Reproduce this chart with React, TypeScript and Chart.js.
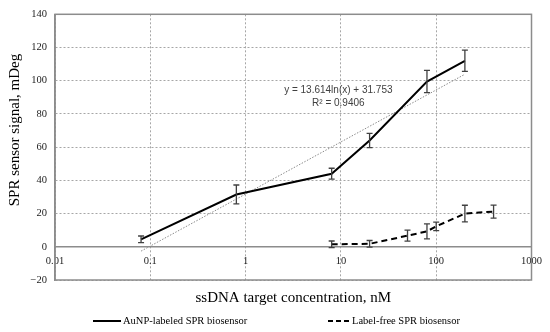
import React, { useEffect, useRef } from 'react';
import { Chart, registerables } from 'chart.js';
Chart.register(...registerables);

// ---- data ----
const xTickValues = [0.01, 0.1, 1, 10, 100, 1000];
const auX = [0.08, 0.8, 8, 20, 80, 200];
const auY = [4.5, 31.5, 44, 64, 99.5, 112];
const auErr = [2, 5.7, 3.3, 4.3, 6.7, 6.4];
const lfX = [8, 20, 50, 80, 100, 200, 400];
const lfY = [1.5, 1.8, 6.7, 9.3, 12.3, 20, 21.2];
const lfErr = [2, 2, 3.3, 4.5, 2.6, 5, 3.9];
const trendX = [0.08, 200];
const trendY = [-2.6, 103.9];
const trendText = ['y = 13.614ln(x) + 31.753', 'R² = 0.9406'];
const trendLabelAt = { x: 9.4, y: [94, 86.5] };
const seriesNames = ['AuNP-labeled SPR biosensor', 'Label-free SPR biosensor'];
const xTitle = 'ssDNA target concentration, nM';
const yTitle = 'SPR sensor signal, mDeg';

const SERIF = '"Liberation Serif", "Times New Roman", serif';
const SANS = '"Liberation Sans", Arial, sans-serif';

const toPts = (xs: number[], ys: number[]) => xs.map((x, i) => ({ x, y: ys[i] }));

const extrasPlugin = {
  id: 'extras',
  afterDatasetsDraw(chart: any) {
    const { ctx, scales } = chart;
    const xs = scales.x, ys = scales.y;
    const drawErr = (X: number[], Y: number[], E: number[]) => {
      ctx.save();
      ctx.strokeStyle = '#404040';
      ctx.lineWidth = 1.3;
      ctx.setLineDash([]);
      X.forEach((xv, i) => {
        const px = xs.getPixelForValue(xv);
        const t = ys.getPixelForValue(Y[i] + E[i]);
        const b = ys.getPixelForValue(Y[i] - E[i]);
        ctx.beginPath();
        ctx.moveTo(px, t); ctx.lineTo(px, b);
        ctx.moveTo(px - 3, t); ctx.lineTo(px + 3, t);
        ctx.moveTo(px - 3, b); ctx.lineTo(px + 3, b);
        ctx.stroke();
      });
      ctx.restore();
    };
    drawErr(auX, auY, auErr);
    drawErr(lfX, lfY, lfErr);
  },
  afterDraw(chart: any) {
    const { ctx, chartArea: ca, scales } = chart;
    ctx.save();
    // plot border
    ctx.strokeStyle = '#8c8c8c';
    ctx.lineWidth = 1.5;
    ctx.setLineDash([]);
    ctx.strokeRect(ca.left, ca.top, ca.right - ca.left, ca.bottom - ca.top);

    // trend label
    ctx.fillStyle = '#404040';
    ctx.font = `10px ${SANS}`;
    ctx.textAlign = 'center';
    ctx.textBaseline = 'middle';
    const lx = scales.x.getPixelForValue(trendLabelAt.x);
    trendText.forEach((t, i) => {
      ctx.fillText(t, lx, scales.y.getPixelForValue(trendLabelAt.y[i]));
    });

    // x title
    ctx.fillStyle = '#000';
    ctx.font = `15px ${SERIF}`;
    ctx.textAlign = 'center';
    ctx.textBaseline = 'middle';
    ctx.fillText(xTitle, (ca.left + ca.right) / 2, ca.bottom + 18);

    // y title
    ctx.save();
    ctx.translate(15, 130);
    ctx.rotate(-Math.PI / 2);
    ctx.fillText(yTitle, 0, 0);
    ctx.restore();

    // legend
    const ly = ca.bottom + 41;
    ctx.font = `10.5px ${SERIF}`;
    ctx.textAlign = 'left';
    ctx.lineWidth = 2;
    ctx.strokeStyle = '#000';
    ctx.beginPath();
    ctx.moveTo(93, ly); ctx.lineTo(121, ly);
    ctx.stroke();
    ctx.fillText(seriesNames[0], 123, ly);
    ctx.setLineDash([5, 3]);
    ctx.beginPath();
    ctx.moveTo(328, ly); ctx.lineTo(350, ly);
    ctx.stroke();
    ctx.setLineDash([]);
    ctx.fillText(seriesNames[1], 352, ly);
    ctx.restore();
  },
};

export default function App() {
  const ref = useRef<HTMLCanvasElement>(null);
  useEffect(() => {
    document.body.style.margin = '0';
    const chart = new Chart(ref.current!, {
      type: 'line',
      data: {
        datasets: [
          {
            label: seriesNames[0],
            data: toPts(auX, auY),
            borderColor: '#000',
            borderWidth: 2,
            pointRadius: 0,
            tension: 0,
          },
          {
            label: seriesNames[1],
            data: toPts(lfX, lfY),
            borderColor: '#000',
            borderWidth: 2,
            borderDash: [6, 4],
            pointRadius: 0,
            tension: 0,
          },
          {
            label: 'trend',
            data: toPts(trendX, trendY),
            borderColor: '#8a8a8a',
            borderWidth: 1,
            borderDash: [1.5, 1.5],
            pointRadius: 0,
            tension: 0,
          },
        ],
      },
      options: {
        responsive: false,
        animation: false,
        layout: { padding: { left: 0, top: 11, right: 17, bottom: 52 } },
        plugins: { legend: { display: false }, tooltip: { enabled: false } },
        scales: {
          x: {
            type: 'logarithmic',
            min: 0.01,
            max: 1000,
            position: { y: 0 } as any,
            afterBuildTicks: (s: any) => {
              s.ticks = xTickValues.map((v) => ({ value: v }));
            },
            ticks: {
              callback: (v: any) => String(v),
              font: { family: SERIF, size: 10.5 },
              color: '#222',
              padding: 8,
              autoSkip: false,
              maxRotation: 0,
            },
            grid: { color: '#a6a6a6', lineWidth: 1, drawTicks: false },
            border: { display: true, color: '#8c8c8c', width: 1.5, dash: [2, 2] },
          },
          y: {
            min: -20,
            max: 140,
            afterFit: (s: any) => { s.width = 55; },
            ticks: {
              stepSize: 20,
              callback: (v: any) => String(v).replace('-', '\u2212'),
              font: { family: SERIF, size: 10.5 },
              color: '#222',
              padding: 8,
            },
            grid: { color: '#a6a6a6', lineWidth: 1, drawTicks: false },
            border: { display: true, color: '#8c8c8c', width: 1.5, dash: [2, 2] },
          },
        },
      },
      plugins: [extrasPlugin],
    });
    return () => chart.destroy();
  }, []);
  return (
    <div style={{ position: 'absolute', left: 0, top: 0, width: 550, height: 332 }}>
      <canvas ref={ref} width={550} height={332} />
    </div>
  );
}
